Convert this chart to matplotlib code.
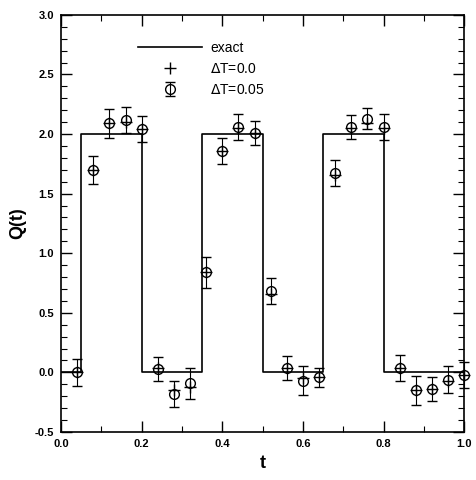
import matplotlib.pyplot as plt
from matplotlib.ticker import MultipleLocator
import numpy as np

plt.rcParams['font.family'] = ['Liberation Sans', 'DejaVu Sans']

# exact step curve (breakpoints)
t_exact = [0.0, 0.05, 0.05, 0.2, 0.2, 0.35, 0.35, 0.5, 0.5, 0.65, 0.65, 0.8, 0.8, 1.0]
q_exact = [0.0, 0.0, 2.0, 2.0, 0.0, 0.0, 2.0, 2.0, 0.0, 0.0, 2.0, 2.0, 0.0, 0.0]

t_pts = [0.04, 0.08, 0.12, 0.16, 0.20, 0.24, 0.28, 0.32, 0.36, 0.40, 0.44, 0.48, 0.52,
         0.56, 0.60, 0.64, 0.68, 0.72, 0.76, 0.80, 0.84, 0.88, 0.92, 0.96, 1.00]
q_dt0 = [0.00, 1.70, 2.09, 2.10, 2.04, 0.04, -0.15, -0.12, 0.84, 1.86, 2.05, 2.01, 0.66,
         0.04, -0.05, -0.04, 1.66, 2.05, 2.09, 2.05, 0.04, -0.15, -0.14, -0.07, -0.02]
q_dt005 = [0.00, 1.70, 2.09, 2.12, 2.04, 0.03, -0.18, -0.09, 0.84, 1.86, 2.06, 2.01, 0.68,
           0.04, -0.07, -0.04, 1.67, 2.06, 2.13, 2.06, 0.04, -0.15, -0.14, -0.06, -0.02]
q_err = [0.11, 0.12, 0.12, 0.11, 0.11, 0.10, 0.11, 0.13, 0.13, 0.11, 0.11, 0.10, 0.11,
         0.10, 0.12, 0.08, 0.11, 0.10, 0.09, 0.11, 0.11, 0.12, 0.10, 0.11, 0.11]

fig = plt.figure(figsize=(4.77, 4.80), dpi=100)
ax = fig.add_axes([0.128, 0.1, 0.845, 0.869])

ax.plot(t_exact, q_exact, 'k-', lw=1.2, label='exact')
ax.plot(t_pts, q_dt0, 'k+', ms=8, mew=1.0, ls='none', label=r'$\Delta$T=0.0', clip_on=False)
eb = ax.errorbar(t_pts, q_dt005, yerr=q_err, fmt='o', mfc='none', mec='k', ecolor='k',
                 ms=7, mew=1.0, elinewidth=0.8, capsize=3.6, capthick=0.8,
                 label=r'$\Delta$T=0.05')
for art in [eb[0], *eb[1], *eb[2]]:
    art.set_clip_on(False)

ax.set_xlim(0.0, 1.0)
ax.set_ylim(-0.5, 3.0)
ax.xaxis.set_major_locator(MultipleLocator(0.2))
ax.xaxis.set_minor_locator(MultipleLocator(0.1))
ax.yaxis.set_major_locator(MultipleLocator(0.5))
ax.yaxis.set_minor_locator(MultipleLocator(0.1))
ax.xaxis.set_major_formatter(plt.FormatStrFormatter('%.1f'))
ax.yaxis.set_major_formatter(plt.FormatStrFormatter('%.1f'))
ax.tick_params(which='both', direction='in', top=True, right=True)
ax.tick_params(which='major', length=8, width=1.0, labelsize=8, pad=5)
ax.tick_params(which='minor', length=4, width=0.8)
for lab in ax.get_xticklabels() + ax.get_yticklabels():
    lab.set_fontweight('bold')
for s in ax.spines.values():
    s.set_linewidth(1.2)

ax.set_xlabel('t', fontsize=13, fontweight='bold', labelpad=4)
ax.set_ylabel('Q(t)', fontsize=13, fontweight='bold', labelpad=6)

ax.legend(loc='upper left', bbox_to_anchor=(0.16, 0.968), frameon=False,
          handlelength=4.6, handletextpad=0.6, labelspacing=0.5,
          prop={'size': 10})

fig.savefig('out.png', dpi=100)
